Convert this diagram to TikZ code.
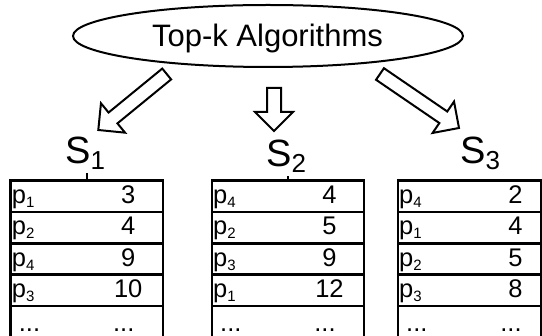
\documentclass[tikz,border=0pt]{standalone}
\usepackage{fontspec}
\setmainfont{Liberation Sans}
\usetikzlibrary{calc,shapes.geometric}

% sub-sized digit set below the baseline
\newcommand\lowsub[3]{\raisebox{-#1}{\fontsize{#2}{#2}\selectfont #3}}

% hollow block arrow from tail coordinate #1 to tip coordinate #2
\newcommand\hollowarrow[2]{%
  \coordinate (#1-base) at ($(#2)!19pt!(#1)$);
  \draw[arrowline]
    ($(#1)!7pt!90:(#2)$) -- ($(#1-base)!7pt!90:(#2)$) --
    ($(#1-base)!19pt!90:(#2)$) -- (#2) --
    ($(#1-base)!19pt!-90:(#2)$) -- ($(#1-base)!7pt!-90:(#2)$) --
    ($(#1)!7pt!-90:(#2)$) -- cycle;
}

% one sorted list: #1 name, #2 left x, #3 right x, #4 item/score pairs
\newcommand\sortedlist[4]{%
  \draw[grid] (#2,180.7) rectangle (#3,340);
  \foreach \k in {1,2,3,4}
    \draw[grid] (#2,{180.7+31.3*\k}) -- (#3,{180.7+31.3*\k});
  \foreach \p/\v [count=\k] in {#4} {
    \node[cell, anchor=base west] (#1-item\k) at (#2+1, {180.7+31.3*(\k-1)+22.8})
      {p\lowsub{4pt}{15}{\p}};
    \node[cell] (#1-score\k) at (#2+117.5, {180.7+31.3*(\k-1)+22.8}) {\v};
  }
  \node[cell, anchor=base west] (#1-more) at (#2+8, 332) {...};
  \node[cell] (#1-moreval) at (#2+113, 332) {...};
}

\begin{document}
\begin{tikzpicture}[x=1pt, y=-1pt,
  grid/.style={line width=2.6pt},
  arrowline/.style={line width=2pt, line join=miter, fill=white},
  title/.style={font=\fontsize{31}{31}\selectfont, inner sep=0pt, anchor=base},
  setlabel/.style={font=\fontsize{38}{38}\selectfont, inner sep=0pt, anchor=base west},
  cell/.style={font=\fontsize{25.5}{25.5}\selectfont, inner sep=0pt, anchor=base},
  tick/.style={line width=1.4pt},
]
\fill[white] (0,0) rectangle (542,336);
\useasboundingbox (0,0) rectangle (542,336);
\clip (0,0) rectangle (542,336);

% root node
\node[draw, ellipse, line width=2pt, minimum width=390pt, minimum height=62pt,
      inner sep=0pt] (algo) at (268,36) {};
\node[title] (algotext) at (267.5,46.5) {Top-k Algorithms};

% list labels
\node[setlabel] (s1) at (65,163.5) {S\lowsub{6pt}{26}{1}};
\node[setlabel] (s2) at (266,166.5) {S\lowsub{6pt}{26}{2}};
\node[setlabel] (s3) at (460,163.5) {S\lowsub{6pt}{26}{3}};

% arrows from the root to the lists
\coordinate (t1) at (166.7,74);  \coordinate (h1) at (98.3,130);
\coordinate (t2) at (274,88);    \coordinate (h2) at (274,131);
\coordinate (t3) at (380,74);    \coordinate (h3) at (459,128);
\hollowarrow{t1}{h1}
\hollowarrow{t2}{h2}
\hollowarrow{t3}{h3}

% sorted lists
\sortedlist{L1}{10.7}{163}{1/3,2/4,4/9,3/10}
\sortedlist{L2}{212}{364}{4/4,2/5,3/9,1/12}
\sortedlist{L3}{398}{541.5}{4/2,1/4,2/5,3/8}

% short ties from the labels to their lists
\coordinate (k1) at (87,173);
\coordinate (k2) at (288,176.5);
\draw[tick] (k1) -- (k1 |- 0,180.7);
\draw[tick] (k2) -- (k2 |- 0,180.7);
\end{tikzpicture}
\end{document}
